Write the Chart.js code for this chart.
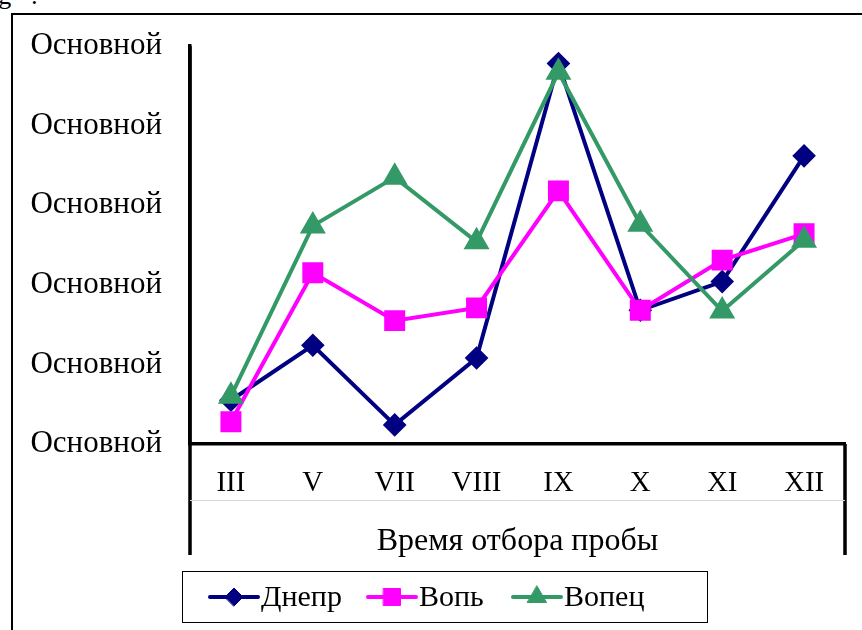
<!DOCTYPE html>
<html>
<head>
<meta charset="utf-8">
<script src="https://cdn.jsdelivr.net/npm/chart.js@4.4.1/dist/chart.umd.min.js"></script>
<style>
  html, body { margin: 0; padding: 0; background: #fff; overflow: hidden; }
  #wrap { position: relative; width: 862px; height: 630px; }
  #frame { position: absolute; left: 11px; top: 13px; width: 900px; height: 700px;
           border-left: 2px solid #000; border-top: 2px solid #000; }
  #cap { position: absolute; left: -9px; top: -19px; font: 26px 'Liberation Serif', serif; }
  canvas { position: absolute; left: 0; top: 0; }
</style>
</head>
<body>
<div id="wrap">
  <div id="cap">ig &nbsp;&nbsp;:</div>
  <div id="frame"></div>
  <canvas id="chart" width="862" height="630"></canvas>
</div>
<script>
// ── Data ─────────────────────────────────────────────
const months = ['III', 'V', 'VII', 'VIII', 'IX', 'X', 'XI', 'XII'];
const dnepr  = [0.55, 1.24, 0.24, 1.08, 4.78, 1.68, 2.04, 3.62];
const vop    = [0.28, 2.15, 1.55, 1.71, 3.18, 1.68, 2.31, 2.64];
const vopets = [0.60, 2.74, 3.35, 2.54, 4.67, 2.76, 1.67, 2.56];
const seriesNames = ['Днепр', 'Вопь', 'Вопец'];
const yTickLabel = 'Основной';
const xTitle = 'Время отбора пробы';

const FONT = "'Liberation Serif', 'Times New Roman', serif";

// axis frame lines + gray divider under the month labels + legend box
const framePlugin = {
  id: 'frameLines',
  afterDraw(chart) {
    const { ctx, chartArea } = chart;
    const bottom = 555;
    ctx.save();
    ctx.strokeStyle = '#000';
    ctx.lineWidth = 3.5;
    ctx.beginPath();
    ctx.moveTo(chartArea.left, chartArea.top);
    ctx.lineTo(chartArea.left, bottom);
    ctx.moveTo(chartArea.right, chartArea.bottom);
    ctx.lineTo(chartArea.right, bottom);
    ctx.stroke();
    ctx.strokeStyle = '#d8d8d8';
    ctx.lineWidth = 1;
    ctx.beginPath();
    ctx.moveTo(chartArea.left, 500.5);
    ctx.lineTo(chartArea.right, 500.5);
    ctx.stroke();

    // legend
    const box = { x: 182.5, y: 571.5, w: 525, h: 51 };
    ctx.strokeStyle = '#000';
    ctx.lineWidth = 1;
    ctx.strokeRect(box.x, box.y, box.w, box.h);
    const cy = box.y + box.h / 2;
    const starts = [210, 368, 513];
    ctx.font = '30px ' + FONT;
    ctx.textBaseline = 'middle';
    ctx.fillStyle = '#000';
    chart.data.datasets.forEach((ds, i) => {
      const x0 = starts[i];
      ctx.strokeStyle = ds.borderColor;
      ctx.lineWidth = 4;
      ctx.lineCap = 'round';
      ctx.beginPath();
      ctx.moveTo(x0, cy);
      ctx.lineTo(x0 + 48, cy);
      ctx.stroke();
      ctx.fillStyle = ds.pointBackgroundColor;
      ctx.strokeStyle = ds.pointBorderColor;
      ctx.lineWidth = 1;
      Chart.helpers.drawPoint(ctx, { pointStyle: ds.pointStyle, radius: ds.pointRadius, rotation: 0, borderWidth: 1 }, x0 + 24, cy);
      ctx.fillStyle = '#000';
      ctx.fillText(ds.label, x0 + 51, cy + 1);
    });
    ctx.restore();
  }
};

const ctx = document.getElementById('chart').getContext('2d');
new Chart(ctx, {
  type: 'line',
  data: {
    labels: months,
    datasets: [{
      label: seriesNames[0],
      data: dnepr,
      borderColor: '#000080',
      borderWidth: 4,
      pointStyle: 'rectRot',
      pointRadius: 9,
      pointBackgroundColor: '#000080',
      pointBorderColor: '#000080',
      order: 3,
    }, {
      label: seriesNames[1],
      data: vop,
      borderColor: '#ff00ff',
      borderWidth: 4,
      pointStyle: 'rect',
      pointRadius: 12,
      pointBackgroundColor: '#ff00ff',
      pointBorderColor: '#ff00ff',
      order: 2,
    }, {
      label: seriesNames[2],
      data: vopets,
      borderColor: '#339966',
      borderWidth: 4,
      pointStyle: 'triangle',
      pointRadius: 11,
      pointBackgroundColor: '#339966',
      pointBorderColor: '#339966',
      order: 1,
    }]
  },
  options: {
    responsive: false,
    animation: false,
    tension: 0,
    layout: { padding: { left: 30, top: 46, right: 17, bottom: 69 } },
    plugins: { legend: { display: false }, tooltip: { enabled: false } },
    scales: {
      x: {
        offset: true,
        grid: { display: false },
        border: { color: '#000', width: 3.5 },
        ticks: { color: '#000', font: { size: 29, family: FONT }, padding: 14, maxRotation: 0, autoSkip: false },
        title: { display: true, text: xTitle, color: '#000', font: { size: 32, family: FONT }, padding: { top: 0, bottom: 0 } },
        afterFit(scale) { scale.height = 117; }
      },
      y: {
        min: 0,
        max: 5,
        grid: { display: false },
        border: { color: '#000', width: 3.5 },
        ticks: { stepSize: 1, color: '#000', font: { size: 31, family: FONT }, padding: 20, callback: () => yTickLabel },
        afterFit(scale) { scale.width = 160; }
      }
    }
  },
  plugins: [framePlugin]
});
</script>
</body>
</html>
